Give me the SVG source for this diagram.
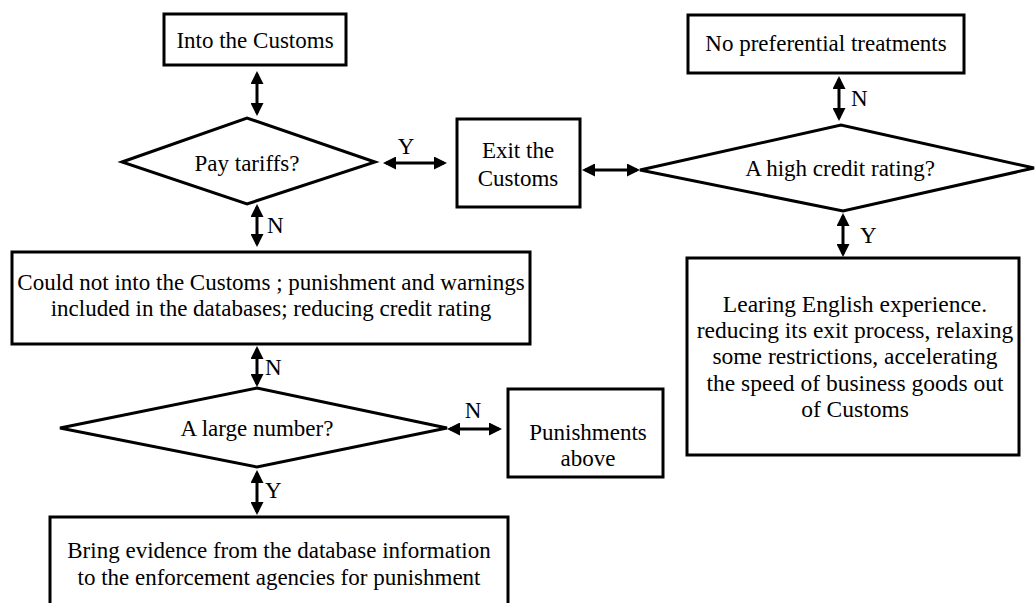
<svg xmlns="http://www.w3.org/2000/svg" width="1036" height="603" viewBox="0 0 1036 603">
<style>
.box{fill:#fff;stroke:#000;stroke-width:3}
.t{font-family:"Liberation Serif","Times New Roman",serif;font-size:23px;fill:#000;text-anchor:middle}
.l{font-family:"Liberation Serif","Times New Roman",serif;font-size:23px;fill:#000}
.c{stroke:#000;stroke-width:3;fill:none;marker-start:url(#ah);marker-end:url(#ah)}
</style>
<defs>
<marker id="ah" viewBox="0 0 13 13" refX="10" refY="6.5" markerWidth="13" markerHeight="13" markerUnits="userSpaceOnUse" orient="auto-start-reverse">
<path d="M0,0 L13,6.5 L0,13 z" fill="#000"/>
</marker>
</defs>
<rect width="1036" height="603" fill="#fff"/>
<g id="connectors">
<line class="c" x1="257" y1="74" x2="257" y2="113"/>
<line class="c" x1="257" y1="207" x2="257" y2="244"/>
<line class="c" x1="386" y1="163" x2="444" y2="163"/>
<line class="c" x1="585" y1="170" x2="637" y2="170"/>
<line class="c" x1="839" y1="79" x2="839" y2="118"/>
<line class="c" x1="843" y1="216" x2="843" y2="254"/>
<line class="c" x1="257" y1="349" x2="257" y2="384"/>
<line class="c" x1="450" y1="429" x2="499" y2="429"/>
<line class="c" x1="257" y1="473" x2="257" y2="512"/>
<text class="l" x="267" y="233">N</text>
<text class="t" x="406" y="154">Y</text>
<text class="l" x="851" y="106">N</text>
<text class="l" x="860" y="243">Y</text>
<text class="l" x="265" y="375">N</text>
<text class="t" x="473" y="418">N</text>
<text class="l" x="265" y="498">Y</text>
</g>
<g id="n-into">
<rect class="box" x="164" y="14" width="182" height="51"/>
<text class="t" x="255" y="48">Into the Customs</text>
</g>
<g id="n-pay">
<polygon class="box" points="122,162 247,118 375,162 247,204"/>
<text class="t" x="247" y="171">Pay tariffs?</text>
</g>
<g id="n-exit">
<rect class="box" x="457" y="119" width="123" height="88"/>
<text class="t" x="518" y="158">Exit the</text>
<text class="t" x="518" y="186">Customs</text>
</g>
<g id="n-nopref">
<rect class="box" x="688" y="15" width="276" height="58"/>
<text class="t" x="826" y="51">No preferential treatments</text>
</g>
<g id="n-high">
<polygon class="box" points="640,170 841,125 1034,168 843,211"/>
<text class="t" x="840" y="176">A high credit rating?</text>
</g>
<g id="n-could">
<rect class="box" x="12" y="252" width="518" height="92"/>
<text class="t" x="271" y="290">Could not into the Customs ; punishment and warnings</text>
<text class="t" x="271" y="316">included in the databases; reducing credit rating</text>
</g>
<g id="n-learn">
<rect class="box" x="687" y="258" width="332" height="197"/>
<text class="t" x="855" y="312" style="font-size:23.5px">Learing English experience.</text>
<text class="t" x="855" y="338" style="font-size:23.5px">reducing its exit process, relaxing</text>
<text class="t" x="855" y="364" style="font-size:23.5px">some restrictions, accelerating</text>
<text class="t" x="855" y="391" style="font-size:23.5px">the speed of business goods out</text>
<text class="t" x="855" y="417" style="font-size:23.5px">of Customs</text>
</g>
<g id="n-large">
<polygon class="box" points="60,428 257,388 447,428 257,467"/>
<text class="t" x="257" y="436">A large number?</text>
</g>
<g id="n-punish">
<rect class="box" x="508" y="389" width="155" height="88"/>
<text class="t" x="588" y="440">Punishments</text>
<text class="t" x="588" y="466">above</text>
</g>
<g id="n-bring">
<rect class="box" x="50" y="517" width="458" height="100"/>
<text class="t" x="279" y="558">Bring evidence from the database information</text>
<text class="t" x="279" y="585">to the enforcement agencies for punishment</text>
</g>
</svg>
